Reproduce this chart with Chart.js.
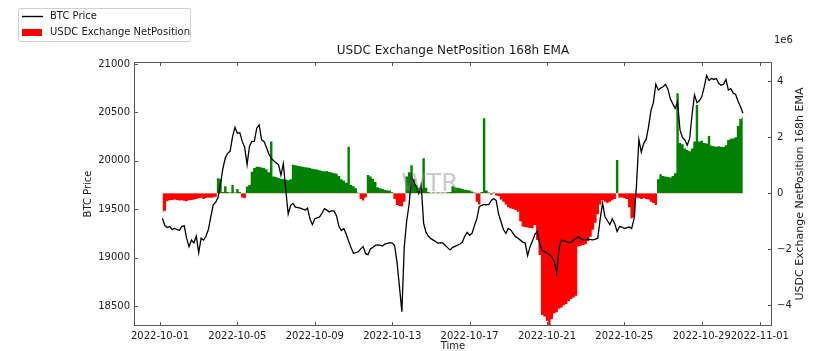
<!DOCTYPE html>
<html><head><meta charset="utf-8">
<script src="https://cdn.jsdelivr.net/npm/chart.js@4.4.0/dist/chart.umd.min.js"></script>
<style>html,body{margin:0;padding:0;background:#fff;overflow:hidden}#wrap{width:817px;height:351px;position:relative}</style>
</head><body><div id="wrap"><canvas id="c" width="817" height="351"></canvas></div>
<script>
// Time axis: first sample 2022-10-01 03:00, one sample every 3 hours
const timeStartHour = 3;       // hours after 2022-10-01 00:00
const stepHours = 3;

const priceValues = [
19406,19330,19310,19320,19290,19300,19290,19280,19320,19330,
19200,19113,19180,19150,19220,19050,19200,19180,19220,19290,
19420,19545,19570,19620,19760,19920,20030,20077,20100,20250,
20346,20284,20290,20200,20140,19960,20150,20200,20200,20336,
20370,20215,20200,20140,20070,20025,20000,19980,19960,19850,
19970,19700,19450,19540,19560,19520,19515,19510,19500,19492,
19510,19400,19340,19400,19410,19420,19460,19505,19490,19470,
19485,19480,19430,19320,19280,19300,19240,19170,19100,19044,
19050,19060,19090,19113,19040,19030,19090,19105,19125,19130,
19125,19120,19140,19147,19155,19150,19125,18950,18700,18441,
19113,19380,19550,19840,19780,19733,19660,19750,19354,19260,
19220,19195,19180,19165,19147,19155,19150,19125,19100,19079,
19105,19115,19128,19140,19160,19220,19260,19230,19250,19330,
19400,19526,19540,19548,19545,19550,19590,19610,19590,19450,
19370,19290,19250,19300,19285,19250,19216,19200,19180,19160,
19150,19020,19113,19170,19240,19270,19140,19075,19062,19050,
19030,19010,18960,18838,19100,19180,19175,19165,19155,19160,
19180,19195,19216,19195,19180,19185,19190,19186,19182,19190,
19200,19400,19561,19420,19380,19340,19400,19350,19270,19320,
19315,19300,19310,19315,19300,19400,19740,20220,20090,20180,
20220,20350,20520,20600,20790,20731,20750,20765,20790,20740,
20640,20590,20540,20610,20318,20240,20215,20160,20230,20480,
20680,20600,20620,20660,20760,20880,20830,20850,20840,20850,
20800,20780,20790,20840,20731,20745,20700,20685,20615,20560,
20490
];

// USDC Exchange NetPosition 168h EMA, in units of 1e6
const netPositionValues = [
-0.66,-0.62,-0.28,-0.25,-0.24,-0.22,-0.24,-0.26,-0.25,-0.27,
-0.28,-0.25,-0.24,-0.22,-0.2,-0.18,-0.16,-0.2,-0.17,-0.15,
-0.16,-0.15,-0.12,0.54,0.5,0.05,0.25,0.05,0.03,0.3,
0.03,0.15,0.05,-0.15,-0.18,0.24,0.3,0.77,0.9,0.95,
0.95,0.92,0.9,0.85,0.75,1.85,0.6,0.58,0.55,0.52,
0.5,0.48,0.47,0.5,1.02,1.0,0.98,0.97,0.95,0.93,
0.92,0.9,0.88,0.86,0.85,0.82,0.8,0.78,0.8,0.76,
0.74,0.72,0.7,0.62,0.5,0.45,0.38,1.66,0.3,0.25,
0.18,0.02,-0.2,-0.26,-0.15,0.65,0.6,0.52,0.4,0.22,
0.18,0.15,0.12,0.1,0.1,0.04,-0.2,-0.42,-0.45,-0.47,
-0.3,0.6,0.75,1.0,0.5,0.3,0.2,0.15,1.25,0.2,
0.05,0.02,0.03,0.02,0.03,0.02,0.03,0.02,0.04,0.05,
0.25,0.22,0.2,0.18,0.15,0.13,0.12,0.1,0.06,0.03,
-0.3,-0.4,0.05,2.68,0.1,0.03,-0.05,0.03,-0.08,-0.1,
-0.22,-0.3,-0.4,-0.5,-0.54,-0.56,-0.6,-0.66,-1.0,-1.19,
-1.2,-1.22,-1.24,-1.25,-1.13,-1.67,-2.2,-4.35,-4.4,-4.55,
-4.7,-4.5,-4.29,-4.25,-4.12,-4.08,-4.0,-3.95,-3.85,-3.78,
-3.72,-3.66,-1.9,-1.87,-1.85,-1.82,-1.7,-1.55,-1.3,-1.05,
-0.75,-0.4,-0.24,-0.3,-0.35,-0.3,-0.25,-0.2,1.19,-0.15,
-0.15,-0.18,-0.2,-0.5,-0.89,-0.85,-0.15,-0.18,-0.2,-0.18,
-0.2,-0.22,-0.3,-0.35,-0.42,0.5,0.68,0.62,0.6,0.58,
0.56,0.62,0.72,3.57,1.8,1.75,1.6,1.55,1.5,1.6,
1.85,3.15,1.85,1.88,1.8,1.78,2.05,1.7,1.68,1.66,
1.68,1.66,1.65,1.72,1.9,1.95,1.96,2.0,2.4,2.65,
2.72
];

// tick positions (days after 2022-10-01 00:00) and labels
const xTickDays = [0,4,8,12,16,20,24,28,31];
const xTickLabels = ['2022-10-01','2022-10-05','2022-10-09','2022-10-13','2022-10-17','2022-10-21','2022-10-25','2022-10-29','2022-11-01'];
const priceTicks = [18500,19000,19500,20000,20500,21000];
const netTicks = [-4,-2,0,2,4];

const xDays = priceValues.map((_, i) => (timeStartHour + stepHours * i) / 24);
const pricePoints = priceValues.map((v, i) => ({x: xDays[i], y: v}));
const netPoints = netPositionValues.map((v, i) => ({x: xDays[i], y: v}));

const FONT = "'DejaVu Sans', 'Liberation Sans', sans-serif";
const TXT = '#1a1a1a';
const SPINE = '#555555';

const decor = {
  id: 'decor',
  afterDraw(chart) {
    const ctx = chart.ctx, a = chart.chartArea;
    const sx = chart.scales.x, sy = chart.scales.y, sy1 = chart.scales.y1;
    ctx.save();
    // watermark
    ctx.fillStyle = 'rgba(140,140,140,0.45)';
    ctx.font = '25px ' + FONT;
    ctx.textAlign = 'center'; ctx.textBaseline = 'middle';
    ctx.fillText('WTR', 430, 184);
    // frame
    ctx.strokeStyle = SPINE; ctx.lineWidth = 1;
    ctx.strokeRect(Math.round(a.left) + 0.5, Math.round(a.top) + 0.5, Math.round(a.right - a.left) - 1, Math.round(a.bottom - a.top) - 1);
    // inward ticks
    ctx.beginPath();
    xTickDays.forEach(d => {
      const px = Math.round(sx.getPixelForValue(d)) + 0.5;
      ctx.moveTo(px, a.bottom); ctx.lineTo(px, a.bottom - 4);
      ctx.moveTo(px, a.top); ctx.lineTo(px, a.top + 4);
    });
    priceTicks.forEach(v => {
      const py = Math.round(sy.getPixelForValue(v)) + 0.5;
      ctx.moveTo(a.left, py); ctx.lineTo(a.left + 4, py);
    });
    netTicks.forEach(v => {
      const py = Math.round(sy1.getPixelForValue(v)) + 0.5;
      ctx.moveTo(a.right, py); ctx.lineTo(a.right - 4, py);
    });
    ctx.stroke();
    // title
    ctx.fillStyle = TXT;
    ctx.font = '12px ' + FONT;
    ctx.textAlign = 'center'; ctx.textBaseline = 'middle';
    ctx.fillText('USDC Exchange NetPosition 168h EMA', (a.left + a.right) / 2, 51);
    // axis titles
    ctx.font = '10px ' + FONT;
    ctx.fillText('Time', (a.left + a.right) / 2, 346);
    ctx.save(); ctx.translate(88, 194); ctx.rotate(-Math.PI / 2);
    ctx.fillText('BTC Price', 0, 0); ctx.restore();
    ctx.save(); ctx.translate(800, 194); ctx.rotate(-Math.PI / 2);
    ctx.font = '11px ' + FONT;
    ctx.fillText('USDC Exchange NetPosition 168h EMA', 0, 0); ctx.restore();
    // offset text
    ctx.font = '10px ' + FONT; ctx.textAlign = 'left';
    ctx.fillText('1e6', 774, 40);
    // legend
    ctx.fillStyle = 'rgba(255,255,255,0.85)';
    ctx.strokeStyle = '#d0d0d0';
    ctx.beginPath();
    if (ctx.roundRect) ctx.roundRect(18.5, 8.5, 172, 33, 2); else ctx.rect(18.5, 8.5, 172, 33);
    ctx.fill(); ctx.stroke();
    ctx.strokeStyle = '#000'; ctx.lineWidth = 1.4;
    ctx.beginPath(); ctx.moveTo(22, 16.5); ctx.lineTo(43, 16.5); ctx.stroke();
    ctx.fillStyle = '#ff0000'; ctx.fillRect(22, 29, 20, 7);
    ctx.fillStyle = TXT; ctx.textBaseline = 'middle';
    ctx.fillText('BTC Price', 50, 16.5);
    ctx.fillText('USDC Exchange NetPosition', 50, 32.5);
    ctx.restore();
  }
};

new Chart(document.getElementById('c'), {
  type: 'line',
  data: {
    datasets: [
      {label: 'BTC Price', data: pricePoints, yAxisID: 'y', borderColor: '#000', borderWidth: 1.3,
       pointRadius: 0, tension: 0, fill: false, order: 0},
      {label: 'USDC Exchange NetPosition', data: netPoints, yAxisID: 'y1', stepped: 'middle',
       borderWidth: 0, borderColor: 'rgba(0,0,0,0)', pointRadius: 0,
       backgroundColor: '#008000',
       fill: {target: {value: 0}, above: '#008000', below: '#ff0000'}, order: 1}
    ]
  },
  options: {
    responsive: false, animation: false, devicePixelRatio: 1,
    layout: {padding: {top: 62, left: 0, right: 0, bottom: 0}},
    plugins: {legend: {display: false}, tooltip: {enabled: false}, title: {display: false}, filler: {propagate: false}},
    scales: {
      x: {type: 'linear', offset: false, min: -1.344, max: 31.63, grid: {display: false, drawTicks: false}, border: {display: false},
          afterBuildTicks: s => { s.ticks = xTickDays.map(v => ({value: v})); },
          afterFit: s => { s.height = 25; },
          ticks: {autoSkip: false, maxRotation: 0, minRotation: 0, padding: 4, color: TXT, font: {family: FONT, size: 10},
                  callback: v => { const k = xTickDays.indexOf(v); return k >= 0 ? xTickLabels[k] : ''; }}},
      y: {type: 'linear', position: 'left', min: 18293, max: 21020, grid: {display: false, drawTicks: false}, border: {display: false},
          afterBuildTicks: s => { s.ticks = priceTicks.map(v => ({value: v})); },
          afterFit: s => { s.width = 134; },
          ticks: {padding: 4, color: TXT, font: {family: FONT, size: 10}, callback: v => String(v)}},
      y1: {type: 'linear', position: 'right', min: -4.74, max: 4.69, grid: {display: false, drawTicks: false}, border: {display: false},
          afterBuildTicks: s => { s.ticks = netTicks.map(v => ({value: v})); },
          afterFit: s => { s.width = 45; },
          ticks: {padding: 5, color: TXT, font: {family: FONT, size: 10}, callback: v => v < 0 ? '\u2212' + (-v) : String(v)}}
    }
  },
  plugins: [decor]
});
</script></body></html>
